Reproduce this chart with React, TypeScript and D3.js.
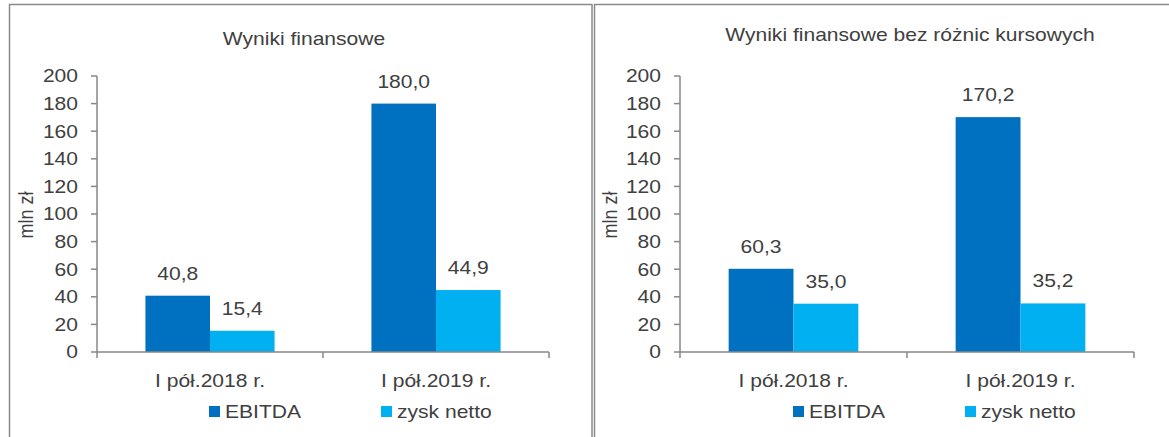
import React from "react";
import * as d3 from "d3";

const categories = ["I pół.2018 r.", "I pół.2019 r."];
const seriesNames = ["EBITDA", "zysk netto"];
const leftEbitda = [40.8, 180.0];
const leftNet = [15.4, 44.9];
const rightEbitda = [60.3, 170.2];
const rightNet = [35.0, 35.2];
const yTicks = [0, 20, 40, 60, 80, 100, 120, 140, 160, 180, 200];
const colors = ["#0070C0", "#00B0F0"];

const FONT = "'Liberation Sans', Arial, sans-serif";
const TEXT = "#404040";
const AXIS = "#878787";
const BORDER = "#8a8a8a";
const SX = 1.17;

type TProps = {
  x: number;
  y: number;
  anchor?: "start" | "middle" | "end";
  size?: number;
  dy?: string;
  rotate?: boolean;
  children: React.ReactNode;
};

function T({ x, y, anchor = "start", size = 18, dy, rotate, children }: TProps) {
  const tf = rotate
    ? `translate(${x},${y}) rotate(-90) scale(1,${SX})`
    : `translate(${x},${y}) scale(${SX},1)`;
  return (
    <text transform={tf} textAnchor={anchor} dy={dy} fontSize={size} fill={TEXT} fontFamily={FONT}>
      {children}
    </text>
  );
}

type PanelProps = {
  title: string;
  titleX: number;
  titleY: number;
  axisX: number;
  plotRight: number;
  series: number[][];
  axisTitleX: number;
  legendX: number[];
};

function Panel({ title, titleX, titleY, axisX, plotRight, series, axisTitleX, legendX }: PanelProps) {
  const y = d3.scaleLinear().domain([0, 200]).range([352, 76]);
  const x0 = d3.scaleBand<string>().domain(categories).range([axisX, plotRight]).paddingInner(0).paddingOuter(0);
  const bw = x0.bandwidth();
  const barW = bw / 3.5;
  const x1 = d3.scaleBand<string>().domain(seriesNames).range([0.75 * barW, 2.75 * barW]);
  const fmt = (v: number) => v.toFixed(1).replace(".", ",");
  return (
    <g>
      <T x={titleX} y={titleY} anchor="middle">{title}</T>
      {seriesNames.map((s, si) =>
        categories.map((c, ci) => {
          const v = series[si][ci];
          const bx = (x0(c) as number) + (x1(s) as number);
          return (
            <g key={s + c}>
              <rect x={bx} y={y(v)} width={x1.bandwidth()} height={y(0) - y(v)} fill={colors[si]} />
              <T x={bx + x1.bandwidth() / 2} y={y(v) - 16} anchor="middle">{fmt(v)}</T>
            </g>
          );
        })
      )}
      <line x1={axisX} x2={axisX} y1={y(200)} y2={y(0)} stroke={AXIS} strokeWidth={1.5} />
      {yTicks.map((t) => (
        <g key={t}>
          <line x1={axisX - 6} x2={axisX} y1={y(t)} y2={y(t)} stroke={AXIS} strokeWidth={1.5} />
          <T x={axisX - 19} y={y(t)} dy="0.35em" anchor="end">{t}</T>
        </g>
      ))}
      <line x1={axisX} x2={plotRight} y1={y(0)} y2={y(0)} stroke={AXIS} strokeWidth={1.5} />
      {[axisX, ...categories.map((c) => (x0(c) as number) + bw)].map((tx, i) => (
        <line key={i} x1={tx} x2={tx} y1={y(0)} y2={y(0) + 6} stroke={AXIS} strokeWidth={1.5} />
      ))}
      {categories.map((c) => (
        <T key={c} x={(x0(c) as number) + bw / 2} y={387} anchor="middle">{c}</T>
      ))}
      <T x={axisTitleX} y={215} anchor="middle" rotate>mln zł</T>
      {seriesNames.map((s, si) => (
        <g key={s}>
          <rect x={legendX[si]} y={406} width={11} height={11} fill={colors[si]} />
          <T x={legendX[si] + 16} y={418}>{s}</T>
        </g>
      ))}
    </g>
  );
}

export default function App() {
  return (
    <svg width={1169} height={437} style={{ position: "absolute", left: 0, top: 0, background: "#fff" }}>
      <rect x={0} y={0} width={1169} height={437} fill="#fff" />
      <path d="M9.5,445 V4.5 H592" fill="none" stroke={BORDER} strokeWidth={1.5} />
      <line x1={592} x2={592} y1={4} y2={445} stroke={BORDER} strokeWidth={1.5} />
      <path d="M594.5,445 V4.5 H1175" fill="none" stroke={BORDER} strokeWidth={1.5} />
      <Panel
        title="Wyniki finansowe"
        titleX={304}
        titleY={45}
        axisX={97}
        plotRight={549}
        series={[leftEbitda, leftNet]}
        axisTitleX={33}
        legendX={[209, 381]}
      />
      <Panel
        title="Wyniki finansowe bez różnic kursowych"
        titleX={910}
        titleY={41}
        axisX={680}
        plotRight={1134}
        series={[rightEbitda, rightNet]}
        axisTitleX={617}
        legendX={[793, 965]}
      />
    </svg>
  );
}
